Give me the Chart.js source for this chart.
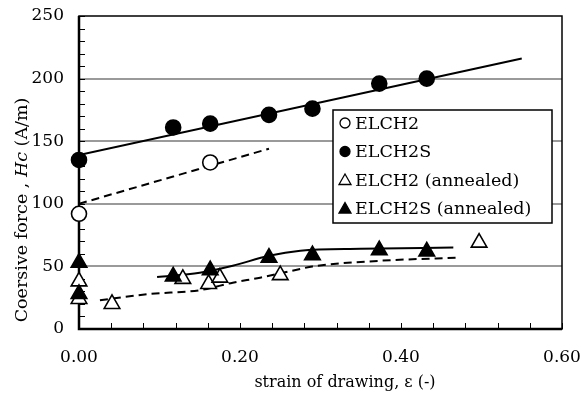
<!DOCTYPE html>
<html>
<head>
<meta charset="utf-8">
<script src="https://cdn.jsdelivr.net/npm/chart.js@4"></script>
<style>
  html, body { margin: 0; padding: 0; background: #fff; }
  #wrap { width: 582px; height: 396px; }
</style>
</head>
<body>
<div id="wrap"><canvas id="myChart" width="582" height="396"></canvas></div>
<script>
// measured points
const elch2X = [0, 0.163];
const elch2Y = [92, 133];
const elch2sX = [0, 0.117, 0.163, 0.236, 0.29, 0.373, 0.432];
const elch2sY = [135, 161, 164, 171, 176, 196, 200];
const annealX = [0, 0, 0.041, 0.129, 0.161, 0.175, 0.25, 0.497];
const annealY = [38, 24, 20, 40, 36, 41, 43, 69];
const annealSX = [0, 0, 0.117, 0.163, 0.236, 0.29, 0.373, 0.432];
const annealSY = [53, 28, 42, 47, 57, 59, 63, 62];

// fitted trend lines
const fitSX = [0, 0.55];
const fitSY = [139, 216];
const fitX = [0, 0.236];
const fitY = [100, 144];
const fitAnnealSX = [0.097, 0.15, 0.191, 0.236, 0.275, 0.35, 0.465];
const fitAnnealSY = [41.5, 45, 50.5, 58.5, 62.5, 64, 65];
const fitAnnealX = [0.026, 0.088, 0.15, 0.191, 0.225, 0.275, 0.29, 0.374, 0.473];
const fitAnnealY = [23, 28, 31, 37, 41, 48, 50, 54.5, 57];

const seriesNames = ["ELCH2", "ELCH2S", "ELCH2 (annealed)", "ELCH2S (annealed)"];
const xTicks = [0, 0.2, 0.4, 0.6];

const SERIF = "'DejaVu Serif', serif";

function pts(xs, ys) {
  return xs.map((x, i) => ({ x: x, y: ys[i] }));
}

function marks(label, xs, ys, style, filled, order) {
  return {
    label: label,
    data: pts(xs, ys),
    showLine: false,
    clip: false,
    pointStyle: style,
    pointRadius: style === "triangle" ? 9 : 7.5,
    pointBackgroundColor: filled ? "#000" : "#fff",
    pointBorderColor: "#000",
    pointBorderWidth: 1.6,
    order: order,
  };
}

function fit(xs, ys, dashed) {
  return {
    label: "",
    data: pts(xs, ys),
    showLine: true,
    pointRadius: 0,
    borderColor: "#000",
    borderWidth: 2,
    borderDash: dashed ? [8, 5] : [],
    tension: 0.4,
    cubicInterpolationMode: "monotone",
    order: 10,
  };
}

// keep the plot box exactly where the layout padding puts it
function noOverflow(s) {
  s.paddingTop = 0;
  s.paddingBottom = 0;
  s.paddingLeft = 0;
  s.paddingRight = 0;
}

// frame, inward ticks, axis titles and boxed legend
const decor = {
  id: "decor",
  beforeDatasetsDraw(chart) {
    const { ctx, chartArea: a, scales } = chart;
    ctx.save();
    ctx.strokeStyle = "#000";
    ctx.lineWidth = 1;
    ctx.beginPath();
    scales.y.ticks.forEach((t) => {
      const py = Math.round(scales.y.getPixelForValue(t.value)) + 0.5;
      ctx.moveTo(a.left, py);
      ctx.lineTo(a.left + 6, py);
    });
    scales.x.ticks.forEach((t) => {
      const px = Math.round(scales.x.getPixelForValue(t.value)) + 0.5;
      ctx.moveTo(px, a.bottom);
      ctx.lineTo(px, a.bottom - 6);
    });
    ctx.stroke();

    ctx.lineWidth = 1.5;
    ctx.strokeRect(a.left, a.top, a.right - a.left, a.bottom - a.top);
    ctx.lineWidth = 2.5;
    ctx.beginPath();
    ctx.moveTo(a.left, a.top);
    ctx.lineTo(a.left, a.bottom);
    ctx.lineTo(a.right, a.bottom);
    ctx.stroke();
    ctx.restore();
  },
  afterDatasetsDraw(chart) {
    const { ctx, chartArea: a } = chart;
    ctx.save();

    // legend
    const lw = 219, lh = 113;
    const lx = a.right - 10 - lw, ly = a.top + 94;
    ctx.fillStyle = "#fff";
    ctx.fillRect(lx, ly, lw, lh);
    ctx.strokeStyle = "#000";
    ctx.lineWidth = 1.5;
    ctx.strokeRect(lx, ly, lw, lh);
    ctx.font = "17.5px " + SERIF;
    ctx.textBaseline = "middle";
    ctx.textAlign = "left";
    const shown = chart.data.datasets.filter((d) => d.label);
    shown.forEach((d, i) => {
      const cy = ly + 13 + i * 28.5;
      const cx = lx + 12;
      ctx.fillStyle = d.pointBackgroundColor;
      ctx.lineWidth = 1.3;
      ctx.beginPath();
      if (d.pointStyle === "triangle") {
        ctx.moveTo(cx, cy - 6);
        ctx.lineTo(cx + 6, cy + 4.5);
        ctx.lineTo(cx - 6, cy + 4.5);
        ctx.closePath();
      } else {
        ctx.arc(cx, cy, 5, 0, Math.PI * 2);
      }
      ctx.fill();
      ctx.stroke();
      ctx.fillStyle = "#000";
      ctx.fillText(d.label, cx + 10, cy + 1);
    });

    // x title
    ctx.textAlign = "center";
    ctx.font = "16px " + SERIF;
    ctx.fillText("strain of drawing, \u03b5 (-)", 345, 383);

    // y title with italic Hc
    const parts = [
      ["Coersive force , ", "17.5px " + SERIF],
      ["Hc", "italic 17.5px " + SERIF],
      [" (A/m)", "17.5px " + SERIF],
    ];
    let total = 0;
    parts.forEach((p) => { ctx.font = p[1]; total += ctx.measureText(p[0]).width; });
    ctx.translate(22, 210);
    ctx.rotate(-Math.PI / 2);
    ctx.textAlign = "left";
    let off = -total / 2;
    parts.forEach((p) => {
      ctx.font = p[1];
      ctx.fillText(p[0], off, 0);
      off += ctx.measureText(p[0]).width;
    });
    ctx.restore();
  },
};

new Chart(document.getElementById("myChart"), {
  type: "scatter",
  data: {
    datasets: [
      marks(seriesNames[0], elch2X, elch2Y, "circle", false, 2),
      marks(seriesNames[1], elch2sX, elch2sY, "circle", true, 2),
      marks(seriesNames[2], annealX, annealY, "triangle", false, 1),
      marks(seriesNames[3], annealSX, annealSY, "triangle", true, 0),
      fit(fitSX, fitSY, false),
      fit(fitX, fitY, true),
      fit(fitAnnealSX, fitAnnealSY, false),
      fit(fitAnnealX, fitAnnealY, true),
    ],
  },
  options: {
    responsive: false,
    animation: false,
    layout: { padding: { top: 16, right: 20, left: 0, bottom: 0 } },
    plugins: { legend: { display: false }, tooltip: { enabled: false } },
    scales: {
      x: {
        type: "linear",
        min: 0,
        max: 0.6,
        afterFit: (s) => { s.height = 67; noOverflow(s); },
        ticks: {
          stepSize: 0.04,
          autoSkip: false,
          maxRotation: 0,
          padding: 18,
          color: "#000",
          font: { family: SERIF, size: 17 },
          callback: (v) => {
            const hit = xTicks.find((t) => Math.abs(t - v) < 1e-6);
            return hit === undefined ? "" : hit.toFixed(2);
          },
        },
        grid: { display: false, drawTicks: false },
        border: { display: false },
      },
      y: {
        min: 0,
        max: 250,
        afterFit: (s) => { s.width = 79; noOverflow(s); },
        ticks: {
          stepSize: 10,
          autoSkip: false,
          padding: 15,
          color: "#000",
          font: { family: SERIF, size: 17 },
          callback: (v) => (v % 50 === 0 ? v : ""),
        },
        grid: {
          drawTicks: false,
          lineWidth: 2,
          color: (c) => {
            const v = c.tick ? c.tick.value : 0;
            return v % 50 === 0 && v > 0 && v < 250 ? "#9a9a9a" : "rgba(0,0,0,0)";
          },
        },
        border: { display: false },
      },
    },
  },
  plugins: [decor],
});
</script>
</body>
</html>
